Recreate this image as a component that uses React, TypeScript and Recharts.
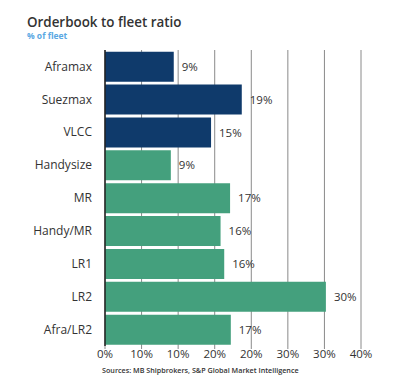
import { BarChart, Bar, XAxis, YAxis, CartesianGrid, Cell, LabelList } from "recharts";

const vessels = ["Aframax", "Suezmax", "VLCC", "Handysize", "MR", "Handy/MR", "LR1", "LR2", "Afra/LR2"];
const ratios = [9.4, 18.7, 14.5, 9.0, 17.1, 15.8, 16.3, 30.2, 17.2];
const segments = ["crude", "crude", "crude", "product", "product", "product", "product", "product", "product"];
const tickValues = [0, 5, 10, 15, 20, 25, 30, 35];
const tickLabels = ["0%", "10%", "10%", "20%", "20%", "30%", "30%", "40%"];

const colors: Record<string, string> = { crude: "#0f3a6b", product: "#44a07d" };
const font = "'Open Sans', sans-serif";

const data = vessels.map((name, i) => ({ name, value: ratios[i], segment: segments[i] }));

export default function App() {
  return (
    <div style={{ position: "absolute", left: 0, top: 0, width: 401, height: 380, background: "#fff", fontFamily: font }}>
      <div style={{ position: "absolute", left: 27, top: 13, fontSize: 13.4, fontWeight: 600, color: "#333", whiteSpace: "nowrap" }}>
        Orderbook to fleet ratio
      </div>
      <div style={{ position: "absolute", left: 27, top: 30, fontSize: 8.5, fontWeight: 700, color: "#5aa8e3", whiteSpace: "nowrap" }}>
        % of fleet
      </div>
      <BarChart
        width={401}
        height={380}
        data={data}
        layout="vertical"
        margin={{ top: 50, right: 40, bottom: 9, left: 5 }}
        barCategoryGap="5%"
      >
        <CartesianGrid horizontal={false} stroke="#8a8a8a" />
        <XAxis
          type="number"
          domain={[0, 35]}
          ticks={tickValues}
          tickFormatter={(v: number) => tickLabels[tickValues.indexOf(v)]}
          axisLine={false}
          tickSize={3}
          tickMargin={1}
          tickLine={{ stroke: "#8a8a8a" }}
          height={25}
          tick={{ fontSize: 11.5, fill: "#333", fontFamily: font }}
        />
        <YAxis
          type="category"
          dataKey="name"
          width={100}
          tickSize={0}
          tickMargin={13}
          axisLine={{ stroke: "#222", strokeWidth: 1.5 }}
          tick={{ fontSize: 12, fill: "#333", fontFamily: font }}
        />
        <Bar dataKey="value" isAnimationActive={false}>
          {data.map((d) => (
            <Cell key={d.name} fill={colors[d.segment]} />
          ))}
          <LabelList
            dataKey="value"
            position="right"
            offset={8}
            formatter={(v: number) => `${Math.round(v)}%`}
            style={{ fontSize: 11.5, fill: "#333", fontFamily: font }}
          />
        </Bar>
      </BarChart>
      <div style={{ position: "absolute", left: 102, top: 365, fontSize: 7.2, fontWeight: 600, color: "#333", whiteSpace: "nowrap" }}>
        Sources: MB Shipbrokers, S&amp;P Global Market Intelligence
      </div>
    </div>
  );
}
